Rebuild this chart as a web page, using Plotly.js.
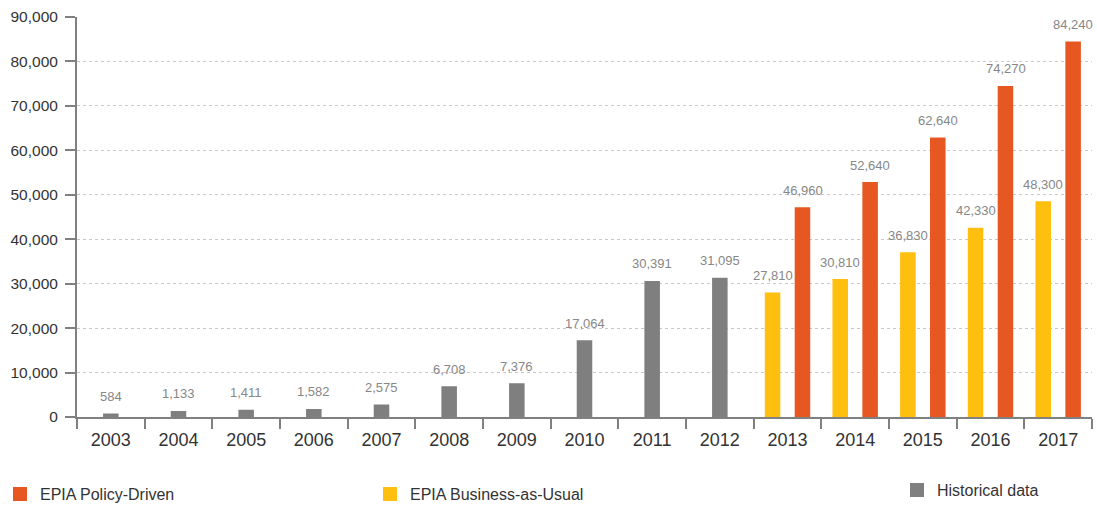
<!DOCTYPE html>
<html>
<head>
<meta charset="utf-8">
<script src="https://cdn.plot.ly/plotly-3.0.1.min.js"></script>
<style>
  html, body { margin: 0; padding: 0; background: #ffffff; }
  #chart { width: 1097px; height: 505px; }
</style>
</head>
<body>
<div id="chart"></div>
<script>
// ---- data ----
const years = ['2003','2004','2005','2006','2007','2008','2009','2010','2011','2012','2013','2014','2015','2016','2017'];
const histYears = ['2003','2004','2005','2006','2007','2008','2009','2010','2011','2012'];
const histValues = [584, 1133, 1411, 1582, 2575, 6708, 7376, 17064, 30391, 31095];
const projYears = ['2013','2014','2015','2016','2017'];
const bauValues = [27810, 30810, 36830, 42330, 48300];
const policyValues = [46960, 52640, 62640, 74270, 84240];
const yTickVals = [0, 10000, 20000, 30000, 40000, 50000, 60000, 70000, 80000, 90000];
const yTickText = ['0', '10,000', '20,000', '30,000', '40,000', '50,000', '60,000', '70,000', '80,000', '90,000'];

// ---- style ----
const FONT = '"Liberation Sans", Arial, Helvetica, sans-serif';
const C_POLICY = '#E65722';
const C_BAU = '#FFBF0F';
const C_HIST = '#7F7F7F';
const AXIS = '#808080';
const BAR_W = 0.2;

const fmt = v => String(v).replace(/\B(?=(\d{3})+(?!\d))/g, ',');

const traces = [
  {
    type: 'bar', name: 'EPIA Policy-Driven', x: projYears, y: policyValues,
    width: BAR_W, offset: 0.121, marker: { color: C_POLICY, line: { color: C_POLICY, width: 2 } },
    legend: 'legend', hoverinfo: 'x+y'
  },
  {
    type: 'bar', name: 'EPIA Business-as-Usual', x: projYears, y: bauValues,
    width: BAR_W, offset: -0.321, marker: { color: C_BAU, line: { color: C_BAU, width: 2 } },
    legend: 'legend2', hoverinfo: 'x+y'
  },
  {
    type: 'bar', name: 'Historical data', x: histYears, y: histValues,
    width: BAR_W, offset: -0.1, marker: { color: C_HIST, line: { color: C_HIST, width: 2 } },
    legend: 'legend3', hoverinfo: 'x+y'
  }
];

function labels(xs, ys, shift) {
  return xs.map((x, i) => ({
    x: years.indexOf(x), y: ys[i], xref: 'x', yref: 'y', text: fmt(ys[i]),
    showarrow: false, xshift: shift, yshift: 18, yanchor: 'middle', xanchor: 'center',
    font: { family: FONT, size: 13, color: '#878787' }
  }));
}
const annotations = [].concat(
  labels(histYears, histValues, 0),
  labels(projYears, bauValues, -15),
  labels(projYears, policyValues, 15)
);

const legendBase = {
  orientation: 'h', xref: 'container', yref: 'container', xanchor: 'left', yanchor: 'middle',
  bgcolor: 'rgba(0,0,0,0)', borderwidth: 0,
  font: { family: FONT, size: 16, color: '#333333' }
};

const layout = {
  width: 1097, height: 505,
  margin: { l: 77, r: 5, t: 17, b: 88 },
  paper_bgcolor: '#ffffff', plot_bgcolor: '#ffffff',
  font: { family: FONT, color: '#333333' },
  barmode: 'overlay',
  showlegend: true,
  legend: Object.assign({}, legendBase, { x: 0.0, y: 1 - 494 / 505 }),
  legend2: Object.assign({}, legendBase, { x: 370 / 1097, y: 1 - 494 / 505 }),
  legend3: Object.assign({}, legendBase, { x: 897 / 1097, y: 1 - 490 / 505 }),
  xaxis: {
    type: 'category', categoryorder: 'array', categoryarray: years,
    range: [-0.5, years.length - 0.5],
    showline: true, linecolor: AXIS, linewidth: 2,
    ticks: 'outside', tickson: 'boundaries', ticklen: 10, tickwidth: 2, tickcolor: AXIS,
    showgrid: false, zeroline: false, ticklabelstandoff: 5,
    tickfont: { family: FONT, size: 18, color: '#333333' },
    fixedrange: true
  },
  yaxis: {
    range: [0, 90000], tickmode: 'array', tickvals: yTickVals, ticktext: yTickText,
    showline: true, linecolor: AXIS, linewidth: 2,
    ticks: 'outside', ticklen: 10, tickwidth: 2, tickcolor: AXIS,
    showgrid: true, gridcolor: '#c8c8c8', gridwidth: 1, griddash: 'dot',
    zeroline: false, ticklabelstandoff: 4,
    tickfont: { family: FONT, size: 15.5, color: '#333333' },
    fixedrange: true
  },
  annotations: annotations
};

Plotly.newPlot('chart', traces, layout, { displayModeBar: false, staticPlot: true });
</script>
</body>
</html>
